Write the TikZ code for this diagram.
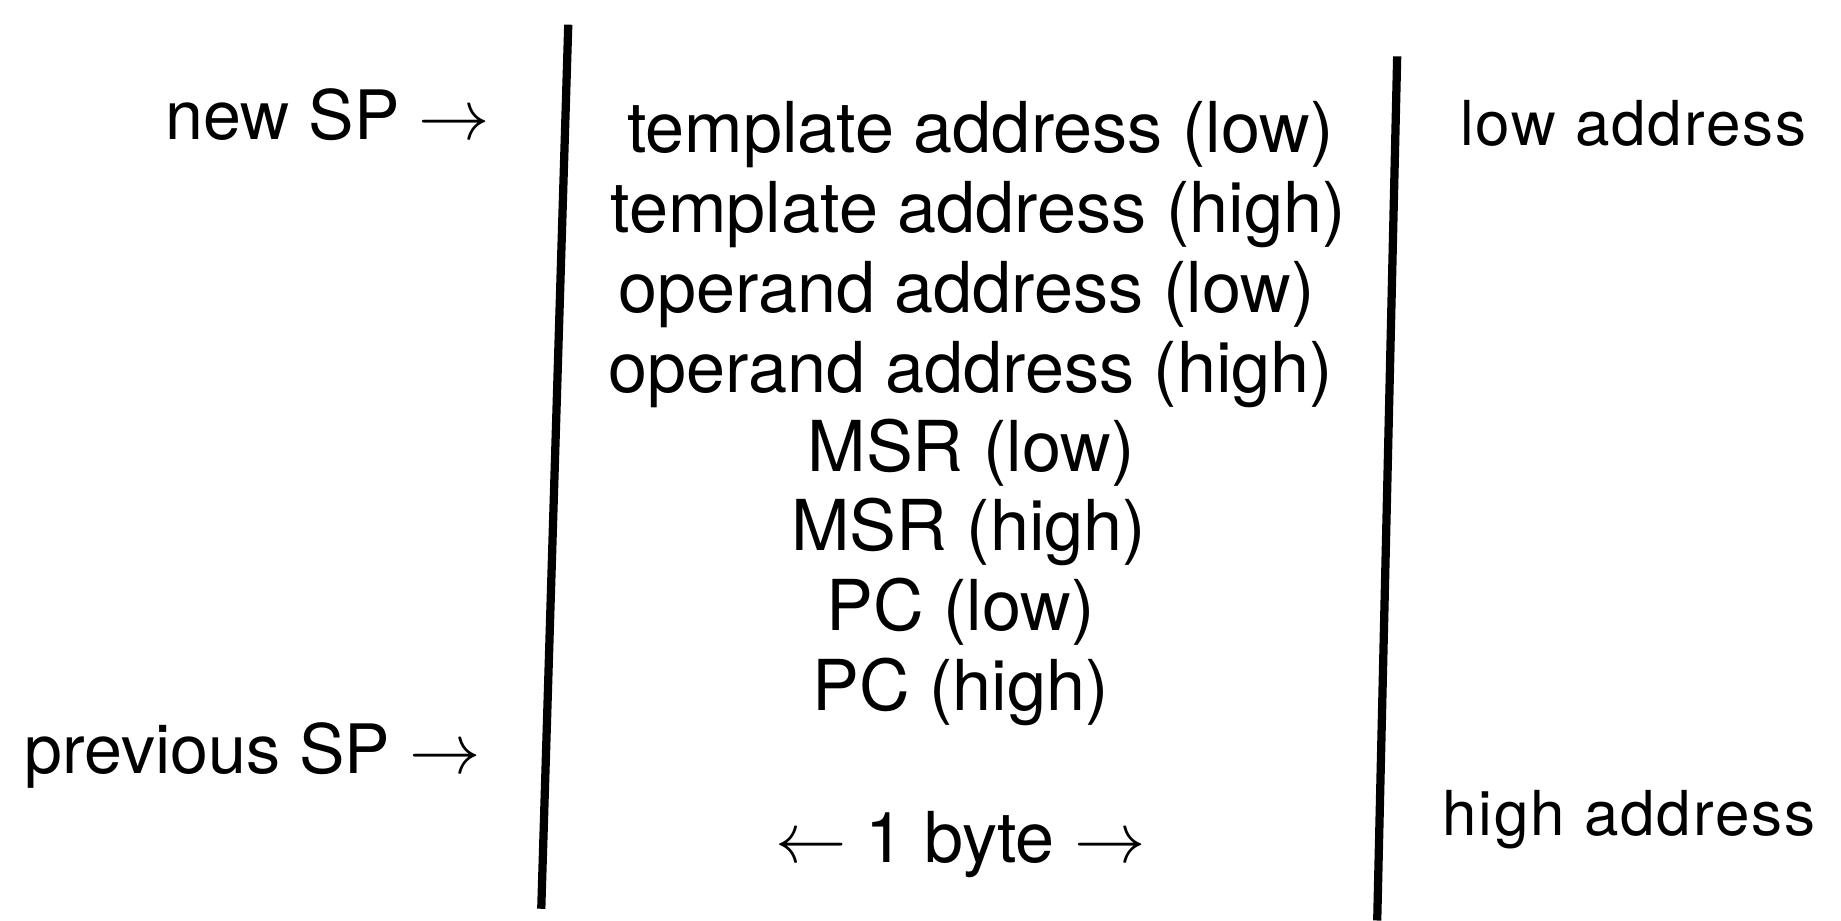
\documentclass[tikz,border=0pt]{standalone}
\usepackage{fontspec}
\setmainfont{TeX Gyre Heros}
\usepackage{tikz}
\usetikzlibrary{calc}

\tikzset{
  entry/.style={inner sep=0pt, anchor=base, font=\fontsize{17}{20}\selectfont},
  pointer/.style={inner sep=0pt, anchor=base east, font=\fontsize{16.5}{20}\selectfont},
  addr/.style={inner sep=0pt, anchor=base west, font=\fontsize{15}{18}\selectfont\addfontfeatures{LetterSpace=3}}
}

\begin{document}
\begin{tikzpicture}[x=0.01cm, y=-0.01cm]
\useasboundingbox (0,0) rectangle (1568,784);
% walls of the stack
\coordinate (lwtop) at (484,21);
\coordinate (lwbot) at (461,774);
\coordinate (rwtop) at (1190,48);
\coordinate (rwbot) at (1173,784);
\draw[line width = 2pt] (lwtop) -- (lwbot);
\draw[line width = 2pt] (rwtop) -- (rwbot);
% stack contents
\node[entry] (tlow)    at (835,130) {template address (low)};
\node[entry] (thigh)   at (833,198) {template address (high)};
\node[entry] (olow)    at (823,266) {operand address (low)};
\node[entry] (ohigh)   at (827,334) {operand address (high)};
\node[entry] (msrlow)  at (827,402) {MSR (low)};
\node[entry] (msrhigh) at (825,469) {MSR (high)};
\node[entry] (pclow)   at (818,537) {PC (low)};
\node[entry] (pchigh)  at (818,605) {PC (high)};
\node[entry] (width)   at (818,735) {$\leftarrow$ 1 byte $\rightarrow$};
% stack pointers
\node[pointer] (newsp)  at (418,119) {new SP $\rightarrow$};
\node[pointer] (prevsp) at (410,659) {previous SP $\rightarrow$};
% address direction
\node[addr] (lowaddr)  at (1243,124) {low address};
\node[addr] (highaddr) at (1228,712) {high address};
\end{tikzpicture}
\end{document}
